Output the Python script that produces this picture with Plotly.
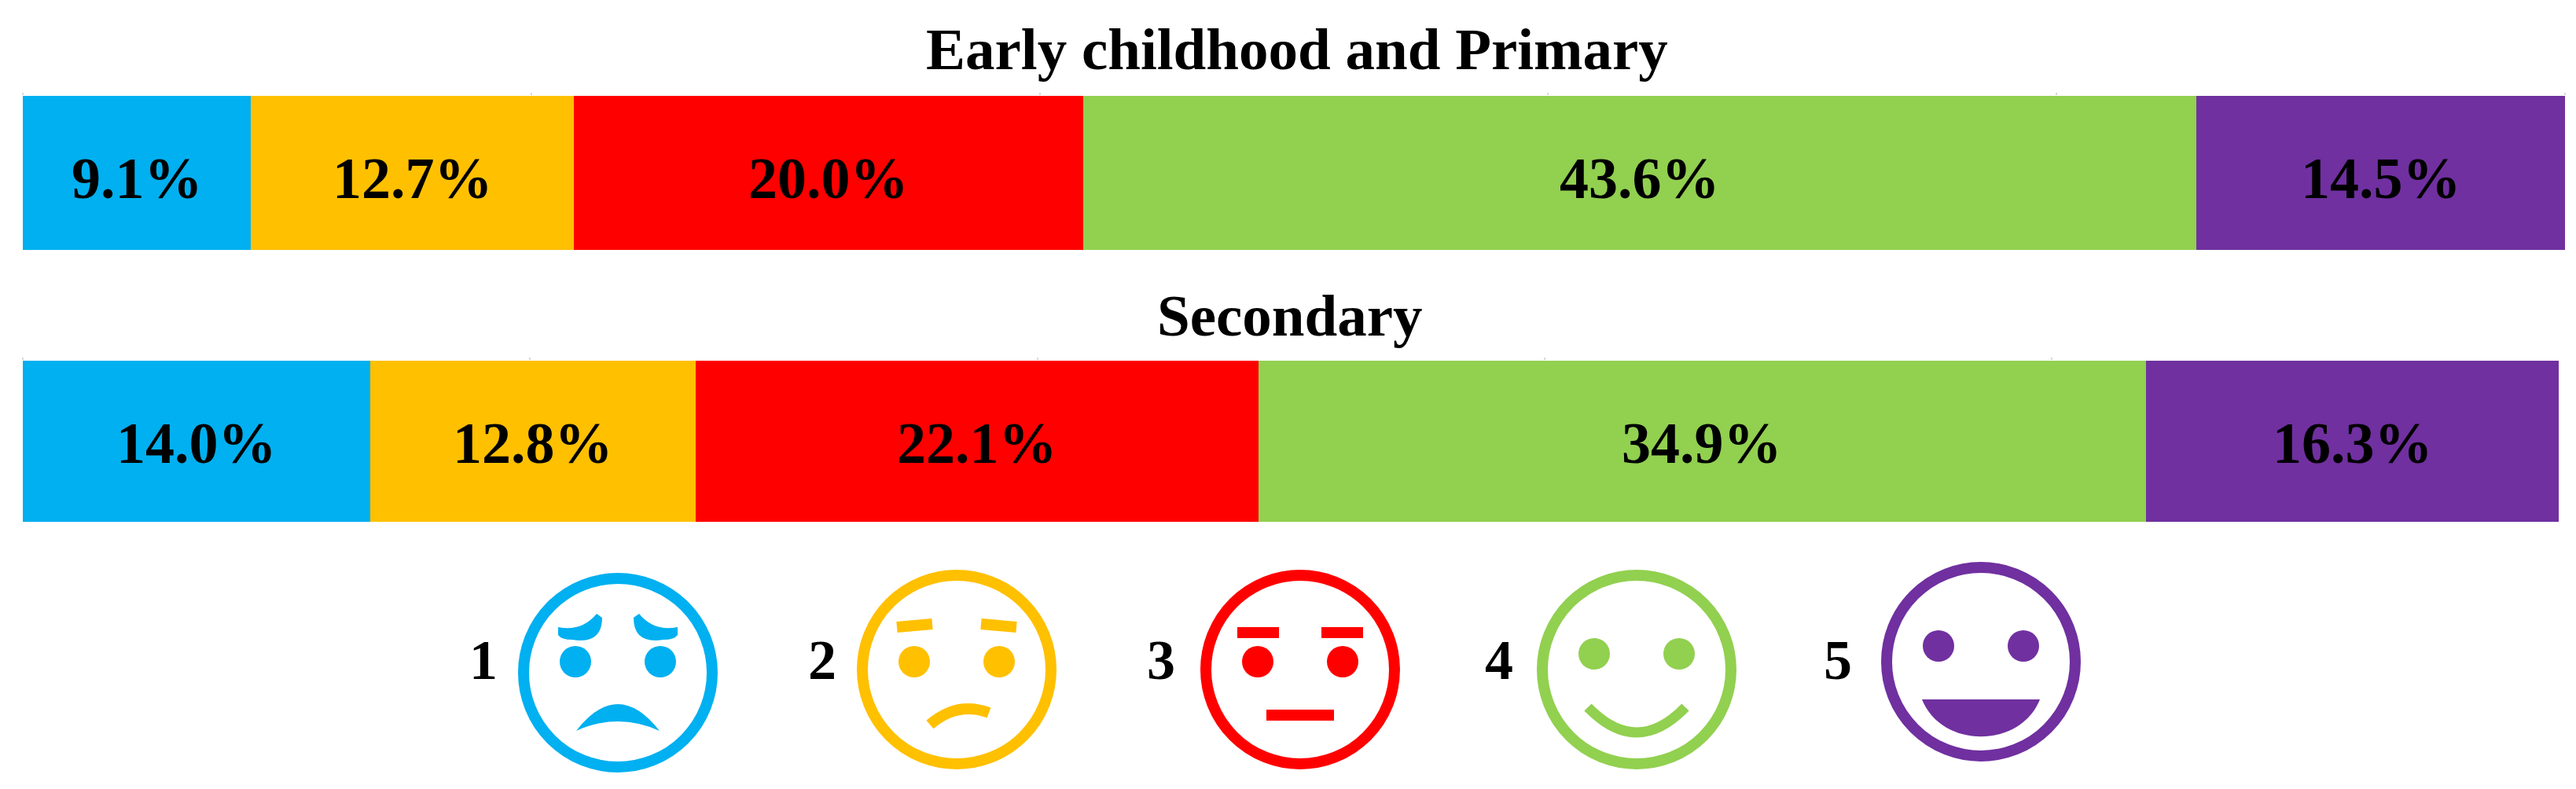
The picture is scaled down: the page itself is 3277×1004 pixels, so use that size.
import plotly.graph_objects as go

W, H = 3277, 1004
PAGE_MARGIN = 8  # the page body's default margin around the figure
levels = ["1", "2", "3", "4", "5"]
colors = ["#00B0F0", "#FFC000", "#FF0000", "#92D050", "#7030A0"]
primary_labels = ["9.1%", "12.7%", "20.0%", "43.6%", "14.5%"]
secondary_labels = ["14.0%", "12.8%", "22.1%", "34.9%", "16.3%"]
# bar lengths as drawn in the picture (percent of each bar)
primary = [8.97, 12.71, 20.04, 43.78, 14.50]
secondary = [13.70, 12.83, 22.19, 35.00, 16.27]
panel_titles = ["Early childhood and Primary", "Secondary"]
tick_vals = [0, 20, 40, 60, 80, 100]

# legend face geometry, in picture pixels
face_x = [786, 1217, 1654, 2082, 2520]
face_y = [856, 852, 852, 852, 842]
face_r = 120
digit_x = [615, 1046, 1477, 1907, 2338]
digit_y = 846
eye_dx = 54
eye_dy = [-14, -10, -10, -20, -20]
eye_r = 20

FONT = "Liberation Serif"
LABEL_SIZE = 74
fig = go.Figure()


def bars(values, xa, ya):
    for lv, c, v in zip(levels, colors, values):
        fig.add_trace(go.Bar(
            x=[v], y=[""], orientation="h", xaxis=xa, yaxis=ya, name=lv,
            marker=dict(color=c, line=dict(width=0)), showlegend=False))


bars(primary, "x", "y")
bars(secondary, "x2", "y2")

fig.add_trace(go.Scatter(
    x=digit_x, y=[digit_y] * 5, mode="text", text=[f"<b>{d}</b>" for d in levels],
    xaxis="x3", yaxis="y3",
    textfont=dict(family=FONT, size=72, color="#000000"), showlegend=False))

shapes = []


def oval(cx, cy, rx, ry, fill=None, line=None, lw=0):
    shapes.append(dict(type="circle", xref="x3", yref="y3", x0=cx - rx, x1=cx + rx,
                       y0=cy - ry, y1=cy + ry, fillcolor=fill or "rgba(0,0,0,0)",
                       line=dict(color=line or "rgba(0,0,0,0)", width=lw)))


def path(d, fill=None, line=None, lw=0):
    shapes.append(dict(type="path", xref="x3", yref="y3", path=d,
                       fillcolor=fill or "rgba(0,0,0,0)",
                       line=dict(color=line or "rgba(0,0,0,0)", width=lw)))


for cx, cy, c, dy in zip(face_x, face_y, colors, eye_dy):
    oval(cx, cy, face_r, face_r, line=c, lw=14)
    oval(cx - eye_dx, cy + dy, eye_r, eye_r, fill=c)
    oval(cx + eye_dx, cy + dy, eye_r, eye_r, fill=c)

# face 1: raised brows and a heavy frown
cx, cy, c = face_x[0], face_y[0], colors[0]
for s in (-1, 1):
    path(f"M {cx+s*76},{cy-58} Q {cx+s*46},{cy-52} {cx+s*27},{cy-75} L {cx+s*20},{cy-70} "
         f"Q {cx+s*20},{cy-36} {cx+s*58},{cy-42} Q {cx+s*72},{cy-42} {cx+s*76},{cy-48} Z", fill=c)
path(f"M {cx-53},{cy+74} Q {cx},{cy+6} {cx+53},{cy+74} Q {cx},{cy+50} {cx-53},{cy+74} Z", fill=c)

# face 2: slanted brows and a small crooked frown
cx, cy, c = face_x[1], face_y[1], colors[1]
for s in (-1, 1):
    path(f"M {cx+s*76},{cy-54} L {cx+s*31},{cy-58}", line=c, lw=14)
path(f"M {cx-34},{cy+70} Q {cx+1},{cy+40} {cx+41},{cy+55}", line=c, lw=14)

# face 3: level brows and a flat mouth
cx, cy, c = face_x[2], face_y[2], colors[2]
for s in (-1, 1):
    path(f"M {cx+s*80},{cy-47} L {cx+s*27},{cy-47}", line=c, lw=14)
path(f"M {cx-43},{cy+58} L {cx+43},{cy+58}", line=c, lw=14)

# face 4: smile
cx, cy, c = face_x[3], face_y[3], colors[3]
path(f"M {cx-62},{cy+48} Q {cx},{cy+112} {cx+62},{cy+48}", line=c, lw=13)

# face 5: open mouth
cx, cy, c = face_x[4], face_y[4], colors[4]
path(f"M {cx-75},{cy+48} L {cx+75},{cy+48} C {cx+50},{cy+111} {cx-50},{cy+111} {cx-75},{cy+48} Z", fill=c)

fw, fh = W - 2 * PAGE_MARGIN, H - 2 * PAGE_MARGIN


def px_x(p):
    return (p - PAGE_MARGIN) / fw


def px_y(p):
    return 1 - (p - PAGE_MARGIN) / fh


annotations = [
    dict(text=f"<b>{t}</b>", x=px_x(x), y=px_y(y), xref="paper", yref="paper", showarrow=False,
         xanchor="center", yanchor="middle",
         font=dict(family=FONT, size=75, color="#000000"))
    for t, x, y in zip(panel_titles, [1650, 1641], [63, 401])
]


def bar_labels(values, labels, xa, ya, shift):
    left = 0
    for v, t in zip(values, labels):
        annotations.append(dict(
            text=f"<b>{t}</b>", x=left + v / 2, y=0, xref=xa, yref=ya, showarrow=False,
            xanchor="center", yanchor="middle", yshift=shift,
            font=dict(family=FONT, size=LABEL_SIZE, color="#000000")))
        left += v


bar_labels(primary, primary_labels, "x", "y", -7)
bar_labels(secondary, secondary_labels, "x2", "y2", -2)


def xaxis(anchor, left, right, total):
    return dict(domain=[px_x(left), px_x(right)], range=[0, total], anchor=anchor, side="top",
                tickmode="array", tickvals=tick_vals, ticktext=[""] * 6, ticks="outside",
                ticklen=3, tickwidth=2, tickcolor="#d9d9d9", showgrid=False, showline=False,
                zeroline=False)


def yaxis(anchor, top, bottom):
    return dict(domain=[px_y(bottom), px_y(top)], anchor=anchor, showticklabels=False,
                ticks="", showgrid=False, showline=False, zeroline=False)


fig.update_layout(
    width=fw, height=fh, margin=dict(l=0, r=0, t=0, b=0), autosize=False,
    paper_bgcolor="white", plot_bgcolor="rgba(0,0,0,0)",
    barmode="stack", bargap=0, showlegend=False,
    xaxis=xaxis("y", 29, 3263, sum(primary)), yaxis=yaxis("x", 122, 318),
    xaxis2=xaxis("y2", 29, 3255, sum(secondary)), yaxis2=yaxis("x2", 459, 664),
    xaxis3=dict(domain=[0, 1], range=[PAGE_MARGIN, W - PAGE_MARGIN], anchor="y3", visible=False),
    yaxis3=dict(domain=[0, 1], range=[H - PAGE_MARGIN, PAGE_MARGIN], anchor="x3", visible=False),
    shapes=shapes, annotations=annotations,
)
fig.write_html("out.html")
